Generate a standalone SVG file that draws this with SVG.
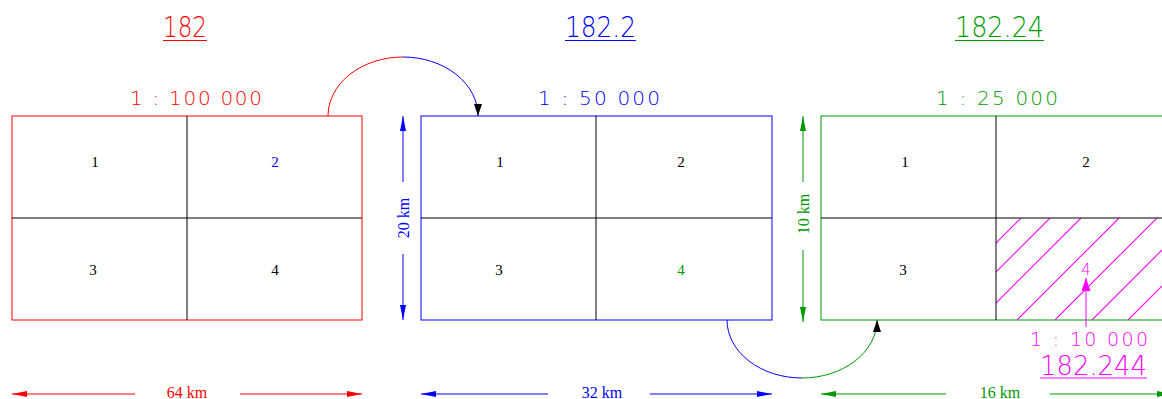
<svg xmlns="http://www.w3.org/2000/svg" width="1162" height="399" viewBox="0 0 1162 399">
<style>
.t{font-family:"DejaVu Sans","Liberation Sans",Arial,sans-serif;font-weight:200}
.n{font-family:"Liberation Serif","Times New Roman",serif;font-size:15px;text-anchor:middle}
.d{font-family:"Liberation Serif","Times New Roman",serif;font-size:16px;text-anchor:middle}
.div{stroke:#000;stroke-width:1;fill:none}
.r{stroke:#ff0000;fill:none}
.b{stroke:#0000ff;fill:none}
.g{stroke:#009900;fill:none}
.m{stroke:#ff00ff;fill:none}
.h{stroke:#ff00ff;stroke-width:1.1;fill:none}
</style>
<defs>
<marker id="ak" viewBox="0 0 12 8" refX="12" refY="4" markerWidth="12" markerHeight="8" markerUnits="userSpaceOnUse" orient="auto"><path d="M0,0 L12,4 L0,8 Z" fill="#000"/></marker>
<marker id="ar" viewBox="0 0 15 6" refX="15" refY="3" markerWidth="15" markerHeight="6" markerUnits="userSpaceOnUse" orient="auto"><path d="M0,0 L15,3 L0,6 Z" fill="#ff0000"/></marker>
<marker id="ab" viewBox="0 0 15 6" refX="15" refY="3" markerWidth="15" markerHeight="6" markerUnits="userSpaceOnUse" orient="auto"><path d="M0,0 L15,3 L0,6 Z" fill="#0000ff"/></marker>
<marker id="ag" viewBox="0 0 15 6" refX="15" refY="3" markerWidth="15" markerHeight="6" markerUnits="userSpaceOnUse" orient="auto"><path d="M0,0 L15,3 L0,6 Z" fill="#009900"/></marker>
<marker id="am" viewBox="0 0 13 9" refX="13" refY="4.5" markerWidth="13" markerHeight="9" markerUnits="userSpaceOnUse" orient="auto"><path d="M0,0 L13,4.5 L0,9 Z" fill="#ff00ff"/></marker>
<clipPath id="hc"><rect x="996" y="218" width="180" height="102"/></clipPath>
</defs>

<g id="sheet-182">
<text class="t" x="163" y="37" font-size="28" fill="#ff0000" textLength="44" lengthAdjust="spacingAndGlyphs">182</text>
<line class="r" x1="163" y1="40.5" x2="207" y2="40.5"/>
<text class="t" x="130" y="105" font-size="20" fill="#ff0000" textLength="132" lengthAdjust="spacing">1 : 100 000</text>
<rect class="r" x="12" y="116" width="350" height="204"/>
<line class="div" x1="187" y1="116" x2="187" y2="320"/>
<line class="div" x1="12" y1="218" x2="362" y2="218"/>
<text class="n" x="95" y="167">1</text>
<text class="n" x="275" y="167" fill="#0000ff">2</text>
<text class="n" x="93" y="275">3</text>
<text class="n" x="275" y="275">4</text>
<line class="r" x1="135" y1="394" x2="12" y2="394" marker-end="url(#ar)"/>
<line class="r" x1="240" y1="394" x2="362" y2="394" marker-end="url(#ar)"/>
<text class="d" x="187" y="398" fill="#ff0000">64 km</text>
</g>

<g id="sheet-182-2">
<text class="t" x="565" y="37" font-size="28" fill="#0000ff" textLength="71" lengthAdjust="spacingAndGlyphs">182.2</text>
<line class="b" x1="565" y1="40.5" x2="636" y2="40.5"/>
<text class="t" x="538" y="105" font-size="20" fill="#0000ff" textLength="122" lengthAdjust="spacing">1 : 50 000</text>
<rect class="b" x="421" y="116" width="351" height="204"/>
<line class="div" x1="596" y1="116" x2="596" y2="320"/>
<line class="div" x1="421" y1="218" x2="772" y2="218"/>
<text class="n" x="500" y="167">1</text>
<text class="n" x="681" y="167">2</text>
<text class="n" x="499" y="275">3</text>
<text class="n" x="681" y="275" fill="#009900">4</text>
<line class="b" x1="403" y1="182" x2="403" y2="116" marker-end="url(#ab)"/>
<line class="b" x1="403" y1="254" x2="403" y2="320" marker-end="url(#ab)"/>
<text class="d" x="0" y="0" fill="#0000ff" transform="translate(408.5 218) rotate(-90)">20 km</text>
<line class="b" x1="548" y1="394" x2="421" y2="394" marker-end="url(#ab)"/>
<line class="b" x1="650" y1="394" x2="772" y2="394" marker-end="url(#ab)"/>
<text class="d" x="602" y="398" fill="#0000ff">32 km</text>
</g>

<g id="sheet-182-24">
<text class="t" x="955" y="37" font-size="28" fill="#009900" textLength="89" lengthAdjust="spacingAndGlyphs">182.24</text>
<line class="g" x1="955" y1="40.5" x2="1044" y2="40.5"/>
<text class="t" x="936" y="105" font-size="20" fill="#009900" textLength="122" lengthAdjust="spacing">1 : 25 000</text>
<g clip-path="url(#hc)">
<line class="h" x1="919" y1="320" x2="1021" y2="218"/>
<line class="h" x1="948" y1="320" x2="1050" y2="218"/>
<line class="h" x1="979" y1="320" x2="1081" y2="218"/>
<line class="h" x1="1017" y1="320" x2="1119" y2="218"/>
<line class="h" x1="1055" y1="320" x2="1157" y2="218"/>
<line class="h" x1="1092" y1="320" x2="1194" y2="218"/>
<line class="h" x1="1128" y1="320" x2="1230" y2="218"/>
<line class="h" x1="1165" y1="320" x2="1267" y2="218"/>
</g>
<rect class="g" x="821" y="116" width="360" height="204"/>
<line class="div" x1="996" y1="116" x2="996" y2="320"/>
<line class="div" x1="821" y1="218" x2="1170" y2="218"/>
<text class="n" x="905" y="167">1</text>
<text class="n" x="1086" y="167">2</text>
<text class="n" x="903" y="275">3</text>
<line class="g" x1="803" y1="182" x2="803" y2="116" marker-end="url(#ag)"/>
<line class="g" x1="803" y1="250" x2="803" y2="322" marker-end="url(#ag)"/>
<text class="d" x="0" y="0" fill="#009900" transform="translate(808.5 214) rotate(-90)">10 km</text>
<line class="g" x1="946" y1="394" x2="821" y2="394" marker-end="url(#ag)"/>
<line class="g" x1="1050" y1="394" x2="1172" y2="394" marker-end="url(#ag)"/>
<text class="d" x="1000" y="398" fill="#009900">16 km</text>
</g>

<g id="sheet-182-244">
<text class="t" x="1086" y="275" font-size="15" fill="#ff00ff" text-anchor="middle">4</text>
<line class="m" x1="1086" y1="327" x2="1086" y2="278" marker-end="url(#am)"/>
<text class="t" x="1030" y="345.5" font-size="19" fill="#ff00ff" textLength="118" lengthAdjust="spacing">1 : 10 000</text>
<text class="t" x="1040" y="375" font-size="26" fill="#ff00ff" textLength="107" lengthAdjust="spacingAndGlyphs">182.244</text>
<line class="m" x1="1040" y1="378" x2="1147" y2="378"/>
</g>

<g id="connectors" stroke-width="1" fill="none">
<path class="r" d="M328,116 A75,59 0 0,1 403,57"/>
<path class="b" d="M403,57 A75,59 0 0,1 478,116" marker-end="url(#ak)"/>
<path class="b" d="M727,320 A75,58 0 0,0 802,378"/>
<path class="g" d="M802,378 A75,58 0 0,0 877,320" marker-end="url(#ak)"/>
</g>
</svg>
